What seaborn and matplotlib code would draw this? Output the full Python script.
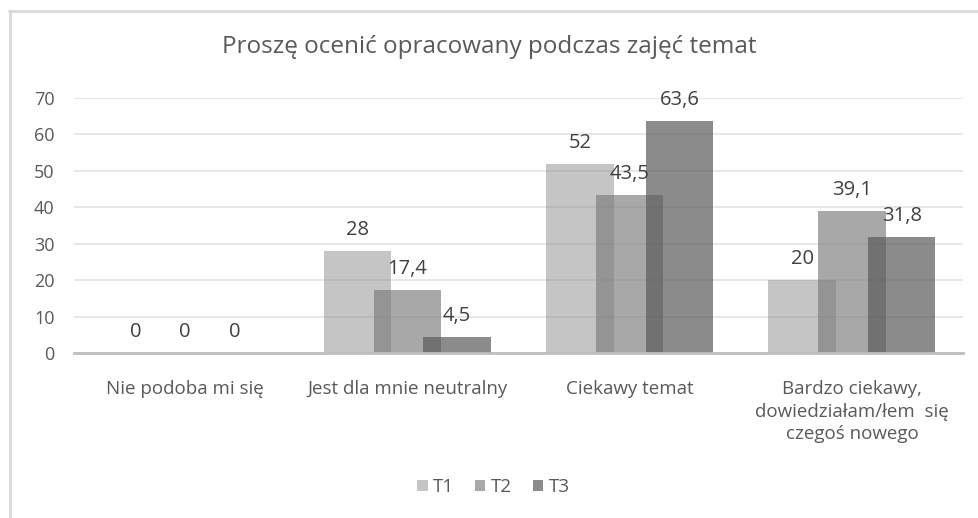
import pandas as pd
import matplotlib.pyplot as plt
import seaborn as sns
from matplotlib.lines import Line2D
from matplotlib.patches import Patch

# Data
categories = [
    "Nie podoba mi się",
    "Jest dla mnie neutralny",
    "Ciekawy temat",
    "Bardzo ciekawy,\ndowiedziałam/łem  się\nczegoś nowego",
]
periods = ["T1", "T2", "T3"]
t1_values = [0, 28, 52, 20]
t2_values = [0, 17.4, 43.5, 39.1]
t3_values = [0, 4.5, 63.6, 31.8]
title = "Proszę ocenić opracowany podczas zajęć temat"

# Excel-like semi-transparent greys
bar_colors = {"T1": "#8c8c8c", "T2": "#7a7a7a", "T3": "#5a5a5a"}
bar_alpha = {"T1": 0.5, "T2": 0.65, "T3": 0.7}

df = pd.DataFrame({
    "Kategoria": categories * 3,
    "Okres": [p for p in periods for _ in categories],
    "Wartość": t1_values + t2_values + t3_values,
})

sns.set_theme(style="white")
plt.rcParams["font.family"] = ["Open Sans", "DejaVu Sans"]

fig = plt.figure(figsize=(9.79, 5.18), dpi=100)
ax = fig.add_axes([0.0756, 0.3185, 0.9081, 0.4923])

sns.barplot(data=df, x="Kategoria", y="Wartość", hue="Okres", hue_order=periods,
            order=categories, palette=bar_colors, dodge=True, legend=False, ax=ax,
            saturation=1, width=0.9)

# Overlapping bars like in Excel (overlap > 0)
bar_w = 0.304
step = 0.224
for i, (period, cont) in enumerate(zip(periods, ax.containers)):
    for j, patch in enumerate(cont.patches):
        center = j + (i - 1) * step
        patch.set_x(center - bar_w / 2)
        patch.set_width(bar_w)
        patch.set_alpha(bar_alpha[period])
        patch.set_edgecolor("none")
        val = patch.get_height()
        ax.annotate(f"{val:g}".replace(".", ","), (center, val),
                    xytext=(0, 11.5), textcoords="offset points",
                    ha="center", va="baseline", fontsize=14.5, color="#404040")

ax.set_xlim(-0.5, 3.5)
ax.set_ylim(0, 70)
ax.set_yticks(range(0, 71, 10))
ax.set_xlabel("")
ax.set_ylabel("")
ax.grid(axis="y", color="#e3e3e3", linewidth=1.2)
ax.set_axisbelow(True)
for side in ["top", "right", "left"]:
    ax.spines[side].set_visible(False)
ax.spines["bottom"].set_color("#bfbfbf")
ax.spines["bottom"].set_linewidth(2)
ax.tick_params(axis="y", length=0, pad=14, labelsize=13, labelcolor="#595959")
ax.tick_params(axis="x", length=0, pad=19.5, labelsize=13.5, labelcolor="#595959")
for lbl in ax.get_xticklabels():
    lbl.set_linespacing(1.33)

fig.text(0.5, 1 - 47 / 518, title, ha="center", va="center",
         fontsize=17.5, color="#595959")

handles = [Patch(facecolor=bar_colors[p], alpha=bar_alpha[p], edgecolor="none") for p in periods]
fig.legend(handles, periods, loc="center", bbox_to_anchor=(0.504, 1 - 487 / 518), ncol=3,
           frameon=False, fontsize=13.5, labelcolor="#595959", handlelength=0.55,
           handleheight=0.55, handletextpad=0.3, columnspacing=1.1)

# chart area border (left and top only visible)
fig.add_artist(Line2D([9.5 / 979, 9.5 / 979], [0, 1 - 11 / 518], transform=fig.transFigure,
                      color="#d9d9d9", linewidth=2))
fig.add_artist(Line2D([9 / 979, 1], [1 - 11 / 518, 1 - 11 / 518], transform=fig.transFigure,
                      color="#d9d9d9", linewidth=2))

fig.savefig("out.png", dpi=100)
